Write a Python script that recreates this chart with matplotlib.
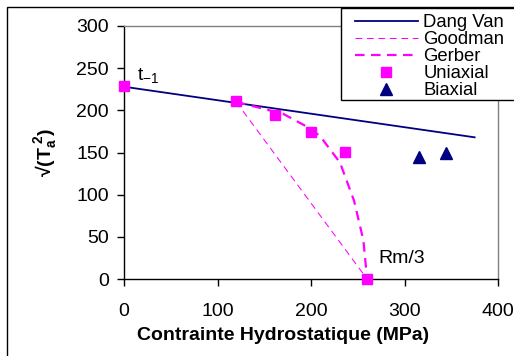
import numpy as np
import matplotlib
matplotlib.use("Agg")
from matplotlib import pyplot as plt
from matplotlib.patches import Rectangle

plt.rcParams['font.family'] = ['Liberation Sans', 'DejaVu Sans']
plt.rcParams['mathtext.fontset'] = 'custom'
plt.rcParams['mathtext.rm'] = 'Liberation Sans'
plt.rcParams['mathtext.bf'] = 'Liberation Sans:bold'
plt.rcParams['mathtext.it'] = 'Liberation Sans:italic'

# data
dang_van_x = [0, 375]
dang_van_y = [228, 168]

goodman_x = [120, 260]
goodman_y = [210, 0]

gerber_x = [120, 170, 200, 210, 231, 238, 246, 256, 260]
gerber_y = [210, 196, 178, 169, 138, 117, 93, 46, 0]

uni_x = [0, 120, 161, 200, 236, 260]
uni_y = [229, 211, 195, 174, 151, 0]

bi_x = [315, 344]
bi_y = [145, 150]

navy = '#000080'
mag = '#FF00FF'
fs = 14
W, H = 514, 356

fig = plt.figure(figsize=(W/100, H/100), dpi=100)
ax = fig.add_axes([124/W, 1-279/H, 374/W, 253/H])

ax.plot(dang_van_x, dang_van_y, color=navy, lw=1.3, label='Dang Van')
ax.plot(goodman_x, goodman_y, color=mag, lw=0.75, dashes=(6.5, 4.5), label='Goodman')
ax.plot(gerber_x, gerber_y, color=mag, lw=1.6, dashes=(4.3, 2.9), label='Gerber')
ax.plot(uni_x, uni_y, 's', color=mag, ms=7.5, clip_on=False, label='Uniaxial', zorder=5)
ax.plot(bi_x, bi_y, '^', color=navy, ms=8, clip_on=False, label='Biaxial', zorder=5)

ax.set_xlim(0, 400)
ax.set_ylim(0, 300)
ax.set_xticks(np.arange(0, 401, 100))
ax.set_yticks(np.arange(0, 301, 50))
ax.tick_params(direction='out', length=5, width=1, labelsize=fs)
ax.tick_params(axis='x', pad=12)
ax.tick_params(axis='y', pad=6)
ax.spines['top'].set_color('#808080')
ax.spines['right'].set_color('#808080')
for s in ax.spines.values():
    s.set_linewidth(1)

ax.set_xlabel('Contrainte Hydrostatique (MPa)', fontsize=fs, fontweight='bold')
ax.xaxis.set_label_coords((283-124)/374, -(335-279)/253, transform=ax.transAxes)
ax.xaxis.label.set_va('center')
ax.set_ylabel(r'√($\mathbf{T_a^{\ 2}}$)', fontsize=fs, fontweight='bold', labelpad=12)

ax.text(14, 236, r'$\mathregular{t_{-1}}$', fontsize=fs, va='baseline')
ax.text(272, 19, 'Rm/3', fontsize=fs, va='baseline')

# legend box drawn separately so the handles sit further in from its left edge
fig.patches.append(Rectangle((341/W, 1-100/H), 0.5, 92/H, transform=fig.transFigure,
                             facecolor='white', edgecolor='black', lw=1, zorder=3))
leg = fig.legend(loc='upper left', bbox_to_anchor=(355/W, 1-14/H),
                 bbox_transform=fig.transFigure, fontsize=13.3, frameon=False,
                 numpoints=1, handlelength=3.4, handletextpad=0.3, labelspacing=0.0,
                 borderpad=0, borderaxespad=0)
leg.set_zorder(4)

fig.patches.append(Rectangle((7/W, -0.1), 1.2, 1-7/H+0.1, transform=fig.transFigure,
                             fill=False, edgecolor='black', lw=1, zorder=-1))

fig.savefig('out.png', dpi=100)
